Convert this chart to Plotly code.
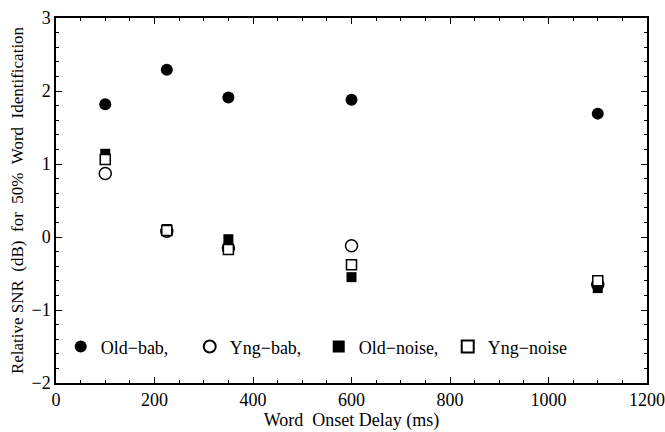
import plotly.graph_objects as go

delays = [100, 225, 350, 600, 1100]
old_bab = [1.82, 2.29, 1.91, 1.88, 1.69]
yng_bab = [0.87, 0.08, -0.15, -0.12, -0.65]
old_noise = [1.14, 0.11, -0.03, -0.55, -0.70]
yng_noise = [1.06, 0.09, -0.17, -0.38, -0.60]

x_ticks = [0, 200, 400, 600, 800, 1000, 1200]
y_ticks = [-2, -1, 0, 1, 2, 3]
y_labels = ["\u22122", "\u22121", "0", "1", "2", "3"]

FONT = "Liberation Serif"

fig = go.Figure()
series = [
    ("Old\u2212bab,", old_bab, "filled-circle", 12),
    ("Yng\u2212bab,", yng_bab, "open-circle", 12),
    ("Old\u2212noise,", old_noise, "filled-square", 10),
    ("Yng\u2212noise", yng_noise, "open-square", 10),
]
for name, vals, kind, sz in series:
    shape = "circle" if "circle" in kind else "square"
    if kind.startswith("open"):
        marker = dict(symbol=shape, size=sz, color="white", line=dict(color="black", width=1.5))
    else:
        marker = dict(symbol=shape, size=sz, color="black", line=dict(color="black", width=0))
    fig.add_trace(go.Scatter(x=delays, y=vals, mode="markers", name=name, marker=marker))

axis_common = dict(
    showline=True, linecolor="black", linewidth=1.5, mirror="ticks",
    ticks="inside", ticklen=6, tickwidth=1, tickcolor="black",
    showgrid=False, zeroline=False, automargin=False, ticklabeloverflow="allow",
)
fig.update_xaxes(
    range=[0, 1200], tickvals=x_ticks, ticktext=[str(v) for v in x_ticks],
    tickfont=dict(family=FONT, size=18, color="black"),
    minor=dict(dtick=50, tick0=0, ticks="inside", ticklen=3, tickcolor="black", showgrid=False),
    title=dict(text="Word\u00a0 Onset Delay (ms)", font=dict(family=FONT, size=18, color="black"), standoff=4),
    **axis_common,
)
fig.update_yaxes(
    range=[-2, 3], tickvals=y_ticks, ticktext=y_labels,
    tickfont=dict(family=FONT, size=18, color="black"),
    minor=dict(dtick=0.2, tick0=0, ticks="inside", ticklen=3, tickcolor="black", showgrid=False),
    title=dict(text="Relative SNR\u00a0 (dB)\u00a0 for\u00a0 50%\u00a0 Word\u00a0 Identification",
               font=dict(family=FONT, size=17, color="black"), standoff=4),
    **axis_common,
)
fig.update_layout(
    width=665, height=432,
    margin=dict(l=56, r=18, t=18, b=49),
    paper_bgcolor="white", plot_bgcolor="white",
    font=dict(family=FONT, size=18, color="black"),
    legend=dict(orientation="h", x=0.008, y=0.099, xanchor="left", yanchor="middle",
                bgcolor="rgba(0,0,0,0)", entrywidth=84, entrywidthmode="pixels",
                font=dict(family=FONT, size=18, color="black"), itemsizing="constant"),
)
fig.write_html(
    "out.html",
    config={"displayModeBar": False},
    post_script="document.body.style.margin='0';document.body.style.padding='0';"
                "document.body.style.overflow='hidden';",
)
